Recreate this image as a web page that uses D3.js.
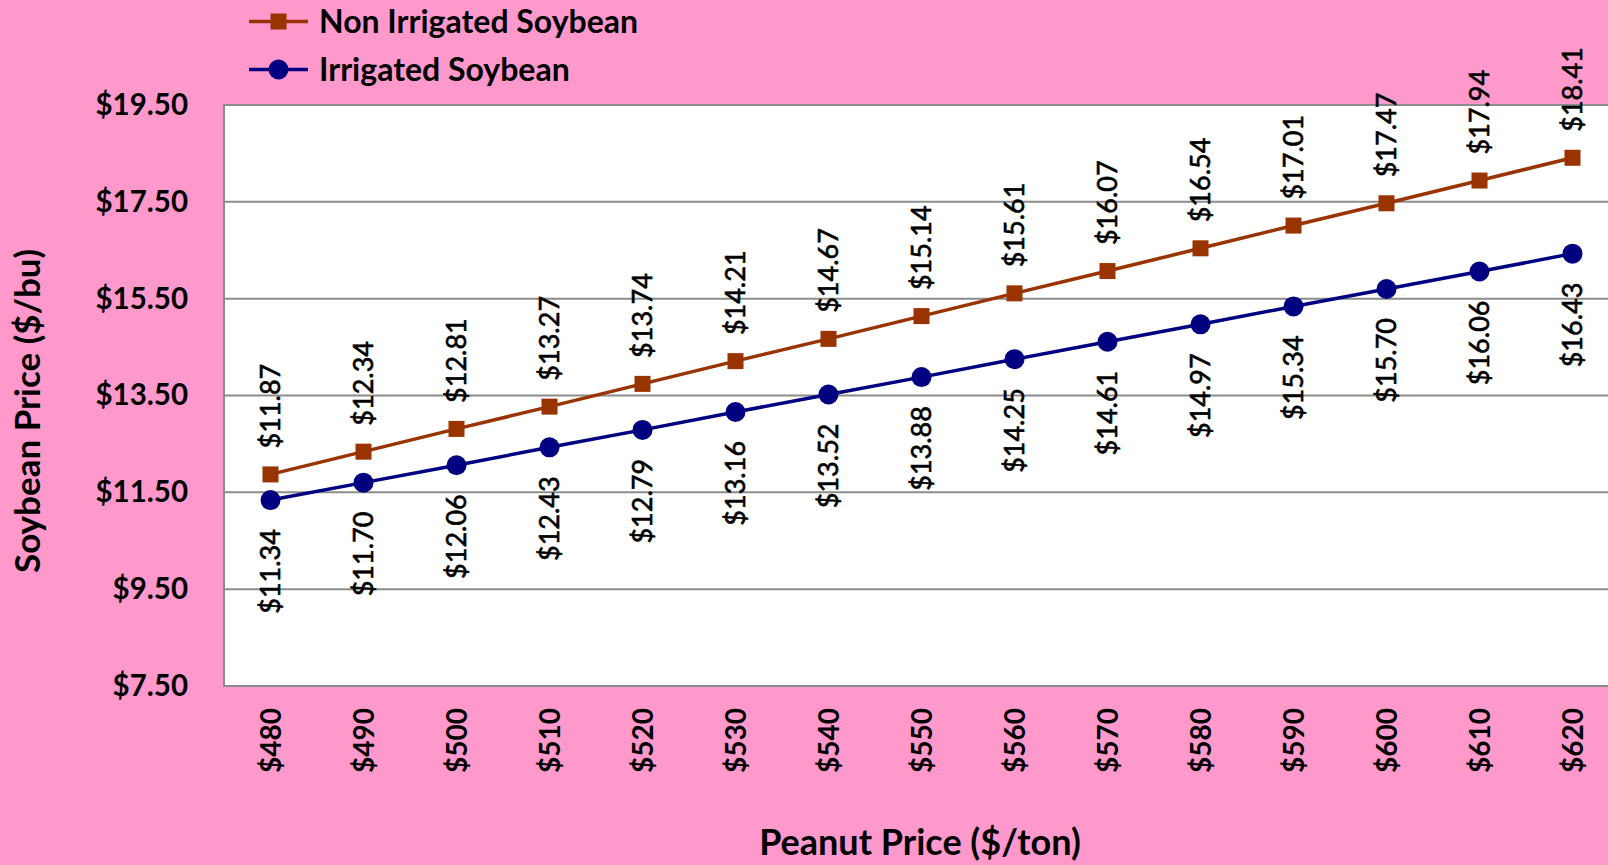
<!DOCTYPE html>
<html><head><meta charset="utf-8">
<script src="https://cdn.jsdelivr.net/npm/d3@7"></script>
<style>html,body{margin:0;padding:0;background:#ff99cc;overflow:hidden}</style>
</head><body>
<svg id="chart" width="1608" height="865"></svg>
<script>
const peanutPrices = [480,490,500,510,520,530,540,550,560,570,580,590,600,610,620];
const nonIrrigated = [11.87,12.34,12.81,13.27,13.74,14.21,14.67,15.14,15.61,16.07,16.54,17.01,17.47,17.94,18.41];
const irrigated = [11.34,11.70,12.06,12.43,12.79,13.16,13.52,13.88,14.25,14.61,14.97,15.34,15.70,16.06,16.43];
const yTicks = [7.5,9.5,11.5,13.5,15.5,17.5,19.5];
const seriesNames = ["Non Irrigated Soybean","Irrigated Soybean"];

const W=1608,H=865;
const L=224, T=105, B=686, R=L+15*93;
const font="Lato, 'Open Sans', sans-serif";
const svg=d3.select("#chart");
svg.append("rect").attr("width",W).attr("height",H).attr("fill","#ff99cc");

const x=d3.scalePoint().domain(peanutPrices).range([L,R]).padding(0.5);
const y=d3.scaleLinear().domain([7.5,19.5]).range([B,T]);

svg.append("rect").attr("x",L).attr("y",T).attr("width",R-L).attr("height",B-T)
  .attr("fill","#fff").attr("stroke","#8c8c8c").attr("stroke-width",2);

// gridlines
svg.append("g").selectAll("line").data(yTicks.slice(1,-1)).join("line")
  .attr("x1",L).attr("x2",R).attr("y1",d=>y(d)).attr("y2",d=>y(d))
  .attr("stroke","#8c8c8c").attr("stroke-width",2);

// y axis labels
const yAxis=d3.axisLeft(y).tickValues(yTicks).tickFormat(d=>"$"+d.toFixed(2)).tickSize(0).tickPadding(36);
const ga=svg.append("g").attr("transform",`translate(${L},0)`).call(yAxis);
ga.select(".domain").remove();
ga.selectAll("text").attr("font-family",font).attr("font-weight","bold").attr("font-size",29.5).attr("fill","#000");

// x axis labels
const xAxis=d3.axisBottom(x).tickFormat(d=>"$"+d).tickSize(0);
const gx=svg.append("g").attr("transform",`translate(0,${B})`).call(xAxis);
gx.select(".domain").remove();
gx.selectAll("text").attr("font-family",font).attr("font-weight","bold").attr("font-size",28).attr("fill","#000")
  .attr("text-anchor","end").attr("transform","rotate(-90)").attr("x",-22).attr("y",0).attr("dy","0.35em");

const line=d3.line().x((d,i)=>x(peanutPrices[i])).y(d=>y(d));
const colors=["#993300","#000080"];

svg.append("path").datum(nonIrrigated).attr("d",line).attr("fill","none").attr("stroke",colors[0]).attr("stroke-width",3.5);
svg.append("path").datum(irrigated).attr("d",line).attr("fill","none").attr("stroke",colors[1]).attr("stroke-width",3.5);
svg.append("g").selectAll("rect").data(nonIrrigated).join("rect")
  .attr("x",(d,i)=>x(peanutPrices[i])-8).attr("y",d=>y(d)-8).attr("width",16).attr("height",16).attr("fill",colors[0]);
svg.append("g").selectAll("circle").data(irrigated).join("circle")
  .attr("cx",(d,i)=>x(peanutPrices[i])).attr("cy",d=>y(d)).attr("r",10).attr("fill",colors[1]);

// data labels
const lblStyle=s=>s.attr("font-family",font).attr("font-size",27).attr("fill","#000")
  .attr("stroke","#000").attr("stroke-width",0.6);
svg.append("g").selectAll("text").data(nonIrrigated).join("text")
  .attr("transform",(d,i)=>`translate(${x(peanutPrices[i])},${y(d)-26}) rotate(-90)`)
  .attr("dy","0.35em").attr("text-anchor","start").call(lblStyle).text(d=>"$"+d.toFixed(2));
svg.append("g").selectAll("text").data(irrigated).join("text")
  .attr("transform",(d,i)=>`translate(${x(peanutPrices[i])},${y(d)+29}) rotate(-90)`)
  .attr("dy","0.35em").attr("text-anchor","end").call(lblStyle).text(d=>"$"+d.toFixed(2));

// legend
const leg=svg.append("g");
[21.5,69.5].forEach((ly,i)=>{
  leg.append("line").attr("x1",249).attr("x2",308).attr("y1",ly).attr("y2",ly).attr("stroke",colors[i]).attr("stroke-width",3.5);
  if(i===0) leg.append("rect").attr("x",278.5-8).attr("y",ly-8).attr("width",16).attr("height",16).attr("fill",colors[0]);
  else leg.append("circle").attr("cx",278.5).attr("cy",ly).attr("r",10).attr("fill",colors[1]);
  leg.append("text").attr("x",319).attr("y",ly).attr("dy","0.35em").attr("font-family",font).attr("font-weight","bold")
    .attr("font-size",32).attr("fill","#000").text(seriesNames[i]);
});

// axis titles
svg.append("text").attr("transform","translate(28,411) rotate(-90)").attr("text-anchor","middle").attr("dy","0.35em")
  .attr("font-family",font).attr("font-weight","bold").attr("font-size",35).attr("fill","#000").text("Soybean Price ($/bu)");
svg.append("text").attr("x",920).attr("y",842).attr("text-anchor","middle").attr("dy","0.35em")
  .attr("font-family",font).attr("font-weight","bold").attr("font-size",36).attr("fill","#000").text("Peanut Price ($/ton)");
</script>
</body></html>
